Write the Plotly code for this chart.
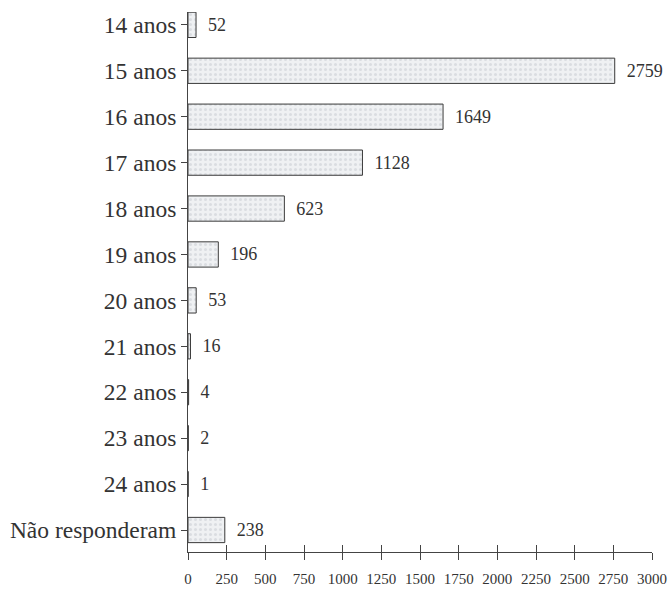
import plotly.graph_objects as go

# Age groups and respondent counts
categorias = ["14 anos", "15 anos", "16 anos", "17 anos", "18 anos", "19 anos",
              "20 anos", "21 anos", "22 anos", "23 anos", "24 anos", "Não responderam"]
valores = [52, 2759, 1649, 1128, 623, 196, 53, 16, 4, 2, 1, 238]
ticks_x = [0, 250, 500, 750, 1000, 1250, 1500, 1750, 2000, 2250, 2500, 2750, 3000]

serif = "Liberation Serif, Times New Roman, serif"
ink = "#333333"
axis_ink = "#444444"

fig = go.Figure()
fig.add_trace(go.Bar(
    x=valores,
    y=categorias,
    orientation="h",
    width=0.55,
    marker=dict(
        color="#eff1f3",
        line=dict(color="#3a3a3a", width=1),
        pattern=dict(shape=".", fgcolor="#c6cacf", bgcolor="#eff1f3", size=5, solidity=0.3),
    ),
    text=valores,
    texttemplate="  %{text}",
    textposition="outside",
    textfont=dict(family=serif, size=18, color=ink),
    cliponaxis=False,
    hoverinfo="skip",
))

# invisible companion trace so the overlaid axis (inner tick halves) is drawn
fig.add_trace(go.Scatter(
    x=valores[:1], y=categorias[:1], xaxis="x2", yaxis="y",
    mode="markers", marker=dict(opacity=0), hoverinfo="skip", showlegend=False,
))

fig.update_layout(
    width=671, height=590,
    margin=dict(l=188, r=19, t=12, b=38, autoexpand=False),
    plot_bgcolor="white", paper_bgcolor="white",
    showlegend=False,
    font=dict(family=serif, color=ink),
    xaxis=dict(
        range=[0, 3000], tickvals=ticks_x, ticktext=[str(v) for v in ticks_x],
        showgrid=False, zeroline=False, showline=True, linecolor=axis_ink, linewidth=1,
        ticks="outside", ticklen=7, tickcolor=axis_ink, automargin=False,
        ticklabelstandoff=6,
        tickfont=dict(family=serif, size=15, color=ink),
    ),
    xaxis2=dict(
        overlaying="x", anchor="y", side="bottom",
        range=[0, 3000], tickvals=ticks_x, showticklabels=False,
        showgrid=False, zeroline=False, showline=False, automargin=False,
        ticks="inside", ticklen=7, tickcolor=axis_ink,
    ),
    yaxis=dict(
        categoryorder="array", categoryarray=categorias,
        range=[11.479, -0.28],
        showgrid=False, zeroline=False, showline=True, linecolor=axis_ink, linewidth=1,
        ticks="outside", ticklen=6, tickcolor=axis_ink, automargin=False,
        tickfont=dict(family=serif, size=23.5, color=ink),
    ),
)

fig.write_html("out.html")
